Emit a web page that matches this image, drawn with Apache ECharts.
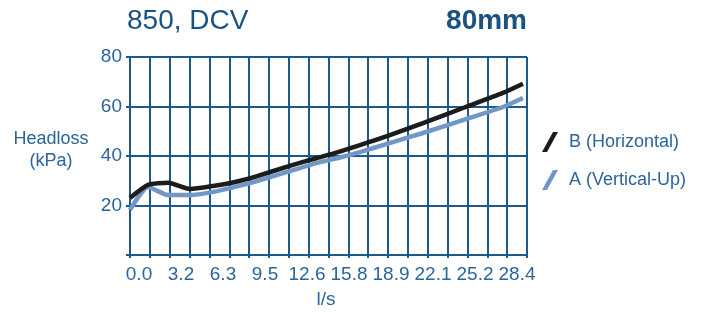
<!DOCTYPE html>
<html>
<head>
<meta charset="utf-8">
<script src="https://cdn.jsdelivr.net/npm/echarts@6/dist/echarts.min.js"></script>
<style>
  html, body { margin: 0; padding: 0; background: #fff; }
  #chart { width: 703px; height: 313px; }
</style>
</head>
<body>
<div id="chart"></div>
<script>
// flow in l/s, headloss in kPa
const flow = [0, 1.29, 2.72, 4.29, 5.94, 7.51, 9.09, 11.66, 13.38, 14.88, 16.45, 18.39, 20.96, 23.82, 26.68, 28.11]
const horizontalB = [23, 28.3, 29.2, 26.7, 27.9, 29.5, 31.9, 36.4, 39.2, 41.6, 44.4, 48.0, 53.3, 59.4, 65.5, 69.2]
const verticalUpA = [18.2, 27.5, 24.2, 24.2, 25.5, 27.5, 29.9, 34.3, 37.2, 39.2, 41.6, 44.9, 49.3, 54.5, 59.8, 63.4]
const xTickLabels = ['0.0', '3.2', '6.3', '9.5', '12.6', '15.8', '18.9', '22.1', '25.2', '28.4']

const gridColor = '#1d5a8c'
const textColor = '#2a659c'
const font = '"Liberation Sans", Arial, sans-serif'

const chart = echarts.init(document.getElementById('chart'), null, { renderer: 'canvas' })

function pairs(ys) {
  return flow.map((x, i) => [x, ys[i]])
}

chart.setOption({
  animation: false,
  backgroundColor: '#fff',
  title: [
    { text: '850, DCV', left: 127, top: 7, padding: 0,
      textStyle: { color: '#1a5282', fontSize: 28, fontWeight: 'normal', fontFamily: font } },
    { text: '80mm', right: 176, top: 7, padding: 0,
      textStyle: { color: '#1a5282', fontSize: 28, fontWeight: 'bold', fontFamily: font } }
  ],
  legend: {
    orient: 'vertical',
    left: 542,
    top: 132,
    padding: 0,
    itemWidth: 16,
    itemHeight: 20,
    itemGap: 18,
    icon: 'path://M0,20 L11,0 L16,0 L5,20 Z',
    textStyle: { color: textColor, fontSize: 18, fontFamily: font, padding: [0, 0, 0, 6] },
    data: ['B (Horizontal)', 'A (Vertical-Up)']
  },
  grid: { left: 130, top: 57, width: 397, height: 198 },
  xAxis: [
    {
      type: 'value', min: 0, max: 28.4, interval: 1.42,
      axisLine: { show: true, lineStyle: { color: gridColor, width: 2 } },
      axisTick: { show: true, length: 3, lineStyle: { color: gridColor, width: 2 } },
      axisLabel: { show: false },
      splitLine: { show: true, lineStyle: { color: gridColor, width: 2 } }
    },
    {
      // label-only axis: the source spaces its tick labels evenly, independent of the grid
      type: 'value', position: 'bottom', min: -0.214, max: 9.238,
      axisLine: { show: false }, axisTick: { show: false }, splitLine: { show: false },
      axisLabel: {
        customValues: [0, 1, 2, 3, 4, 5, 6, 7, 8, 9],
        formatter: (v) => xTickLabels[Math.round(v)],
        color: textColor, fontSize: 19, fontFamily: font, margin: 10
      }
    }
  ],
  yAxis: {
    type: 'value', min: 0, max: 80, interval: 20,
    axisLine: { show: true, lineStyle: { color: gridColor, width: 2 } },
    axisTick: { show: true, length: 4, lineStyle: { color: gridColor, width: 2 } },
    axisLabel: {
      color: textColor, fontSize: 19, fontFamily: font, margin: 8,
      formatter: (v) => (v === 0 ? '' : String(v))
    },
    splitLine: { show: true, lineStyle: { color: gridColor, width: 2 } }
  },
  graphic: [
    { type: 'text', x: 51, y: 139,
      style: { text: 'Headloss', fill: textColor, font: '18px ' + font, align: 'center', verticalAlign: 'middle' } },
    { type: 'text', x: 51, y: 161,
      style: { text: '(kPa)', fill: textColor, font: '18px ' + font, align: 'center', verticalAlign: 'middle' } },
    { type: 'text', x: 326, y: 300,
      style: { text: 'l/s', fill: textColor, font: '19px ' + font, align: 'center', verticalAlign: 'middle' } }
  ],
  series: [
    {
      name: 'A (Vertical-Up)', type: 'line', data: pairs(verticalUpA),
      showSymbol: false, smooth: 0.2, color: '#7097c6',
      lineStyle: { color: '#7097c6', width: 4.5 }
    },
    {
      name: 'B (Horizontal)', type: 'line', data: pairs(horizontalB),
      showSymbol: false, smooth: 0.2, color: '#1c1c1c',
      lineStyle: { color: '#1c1c1c', width: 4.5 }
    }
  ]
})
</script>
</body>
</html>
